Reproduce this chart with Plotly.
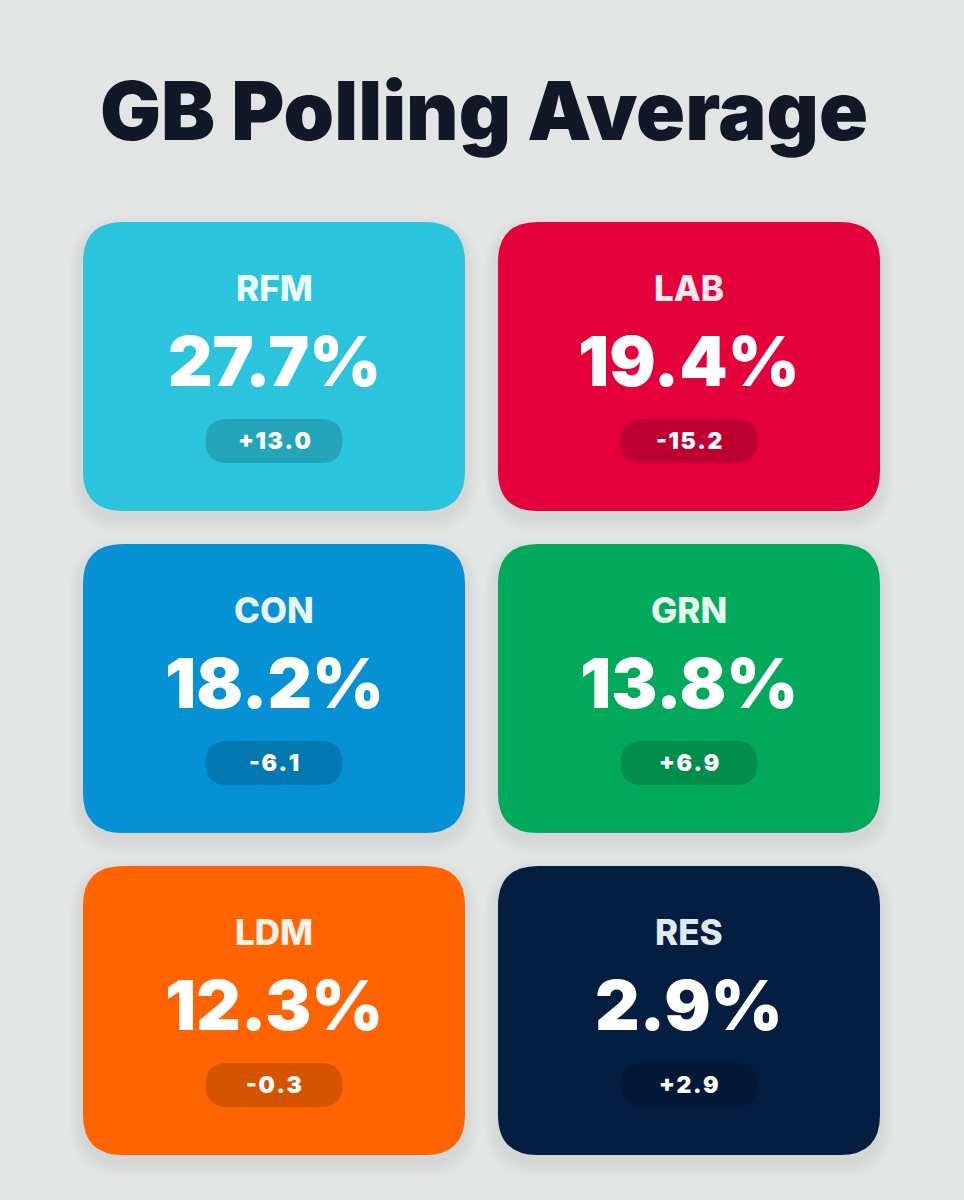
import plotly.graph_objects as go

# polling data
parties = ["RFM", "LAB", "CON", "GRN", "LDM", "RES"]
shares = [27.7, 19.4, 18.2, 13.8, 12.3, 2.9]
changes = [13.0, -15.2, -6.1, 6.9, -0.3, 2.9]
colors = ["#2bc4dc", "#e3003b", "#0591d3", "#02a95b", "#ff6400", "#041e42"]
label_colors = ["#eafcff", "#fde8ee", "#e6f4fc", "#e5f8ee", "#fff0e6", "#e2e8f0"]

W, H = 964, 1200
CARD_W, CARD_H, R = 382, 289, 40
COL_X = [83, 498]
ROW_Y = [222, 544, 866]
PILL_W, PILL_H = 137, 44
HAIR = "\u200a"


def rounded_rect(x0, y0, x1, y1, r):
    return (f"M {x0+r},{y0} L {x1-r},{y0} Q {x1},{y0} {x1},{y0+r} "
            f"L {x1},{y1-r} Q {x1},{y1} {x1-r},{y1} L {x0+r},{y1} "
            f"Q {x0},{y1} {x0},{y1-r} L {x0},{y0+r} Q {x0},{y0} {x0+r},{y0} Z")


shapes = []
annotations = []

for i, party in enumerate(parties):
    x0 = COL_X[i % 2]
    y0 = ROW_Y[i // 2]
    x1, y1 = x0 + CARD_W, y0 + CARD_H
    cx = x0 + CARD_W / 2

    # soft shadow
    for k in range(1, 8):
        g = k * 2
        shapes.append(dict(type="path", path=rounded_rect(x0 - g, y0 - g + 8, x1 + g, y1 + g + 8, R + g),
                           fillcolor="rgba(0,0,0,0.009)", line=dict(width=0), layer="below"))
    shapes.append(dict(type="path", path=rounded_rect(x0, y0, x1, y1, R),
                       fillcolor=colors[i], line=dict(width=0), layer="below"))
    # pill
    py = y0 + 219
    shapes.append(dict(type="path",
                       path=rounded_rect(cx - PILL_W / 2, py - PILL_H / 2, cx + PILL_W / 2, py + PILL_H / 2, PILL_H / 2),
                       fillcolor="rgba(0,0,0,0.16)", line=dict(width=0), layer="below"))

    annotations.append(dict(x=cx, y=y0 + 66, text=party, showarrow=False,
                            font=dict(family="Inter", size=35, weight=800, color=label_colors[i])))
    annotations.append(dict(x=cx, y=y0 + 139, text=f"{shares[i]:.1f}%", showarrow=False,
                            font=dict(family="Inter Black", size=69, color="white")))
    annotations.append(dict(x=cx, y=py, text=HAIR.join(f"{changes[i]:+.1f}"), showarrow=False,
                            font=dict(family="Inter Black", size=23, color="white")))

title = "GB Polling Average"
annotations.append(dict(x=W / 2 + 2, y=111, text=title, showarrow=False,
                        font=dict(family="Inter Black", size=81, color="#111827")))

fig = go.Figure()
fig.update_layout(
    width=W, height=H,
    margin=dict(l=0, r=0, t=0, b=0),
    paper_bgcolor="#e3e5e5",
    plot_bgcolor="#e3e5e5",
    xaxis=dict(range=[0, W], visible=False, fixedrange=True),
    yaxis=dict(range=[H, 0], visible=False, fixedrange=True),
    shapes=shapes,
    annotations=annotations,
    showlegend=False,
)

fig.write_html("out.html", config={"displayModeBar": False},
               post_script="document.body.style.margin='0';")
